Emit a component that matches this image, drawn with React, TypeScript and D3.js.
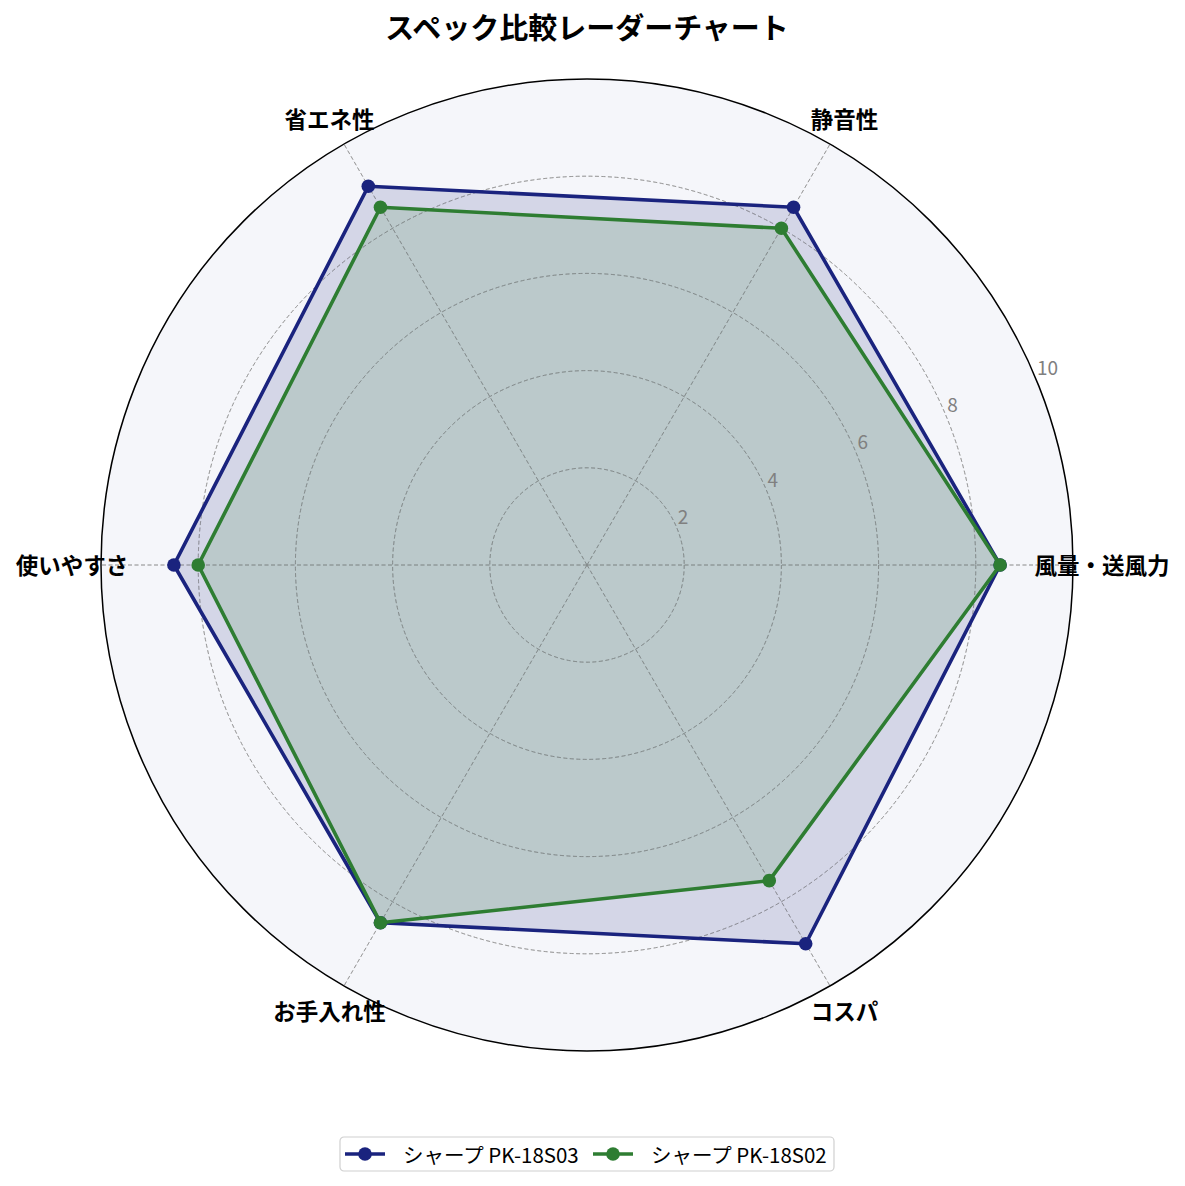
import React from 'react';
import * as d3 from 'd3';

// Data
const categories = ['風量・送風力', '静音性', '省エネ性', '使いやすさ', 'お手入れ性', 'コスパ'];
const seriesNames = ['シャープ PK-18S03', 'シャープ PK-18S02'];
const pk18s03 = [8.5, 8.5, 9.0, 8.5, 8.5, 9.0];
const pk18s02 = [8.5, 8.0, 8.5, 8.0, 8.5, 7.5];
const radialTicks = [2, 4, 6, 8, 10];
const seriesColors = ['#1a237e', '#2e7d32'];

const W = 1185;
const H = 1186;
const cx = 587;
const cy = 565;
const R = 486;
const FONT = '"Noto Sans CJK JP", "Noto Sans", sans-serif';

export default function App() {
  const r = d3.scaleLinear().domain([0, 10]).range([0, R]);
  // category i sits at i*60° counter-clockwise from east; d3 radial angles go clockwise from north
  const angle = (i: number) => Math.PI / 2 - (i * 2 * Math.PI) / categories.length;
  const pt = (i: number, v: number) => {
    const a = angle(i);
    return [r(v) * Math.sin(a), -r(v) * Math.cos(a)];
  };

  const radial = d3
    .lineRadial<number>()
    .angle((_, i) => angle(i))
    .radius(d => r(d))
    .curve(d3.curveLinearClosed);

  const series = [pk18s03, pk18s02];
  const rlabelAngle = (22.5 * Math.PI) / 180;

  return (
    <svg width={W} height={H} style={{ position: 'absolute', left: 0, top: 0, background: '#fff' }} fontFamily={FONT}>
      <text x={cx} y={26} textAnchor="middle" dominantBaseline="central" fontSize={29} fontWeight="bold" fill="#000">
        スペック比較レーダーチャート
      </text>

      <g transform={`translate(${cx},${cy})`}>
        <circle r={R} fill="#f5f6fa" />
        {/* grid circles */}
        {radialTicks.slice(0, -1).map(t => (
          <circle key={t} r={r(t)} fill="none" stroke="#a0a0a0" strokeWidth={0.9} strokeDasharray="4,2.5" />
        ))}
        {/* spokes */}
        {categories.map((c, i) => {
          const [x, y] = pt(i, 10);
          return <line key={c} x1={0} y1={0} x2={x} y2={y} stroke="#a0a0a0" strokeWidth={0.9} strokeDasharray="4,2.5" />;
        })}

        {series.map((s, k) => (
          <path key={'f' + k} d={radial(s) ?? ''} fill={seriesColors[k]} fillOpacity={0.15} stroke="none" />
        ))}
        {/* grid shows faintly through the fills */}
        {radialTicks.slice(0, -1).map(t => (
          <circle key={'g' + t} r={r(t)} fill="none" stroke="#8a8a8a" strokeOpacity={0.5} strokeWidth={0.9} strokeDasharray="4,2.5" />
        ))}
        {categories.map((c, i) => {
          const [x, y] = pt(i, 10);
          return <line key={'s' + c} x1={0} y1={0} x2={x} y2={y} stroke="#8a8a8a" strokeOpacity={0.5} strokeWidth={0.9} strokeDasharray="4,2.5" />;
        })}

        {series.map((s, k) => (
          <g key={'l' + k}>
            <path d={radial(s) ?? ''} fill="none" stroke={seriesColors[k]} strokeWidth={3.6} strokeLinejoin="round" />
            {s.map((v, i) => {
              const [x, y] = pt(i, v);
              return <circle key={i} cx={x} cy={y} r={6.8} fill={seriesColors[k]} />;
            })}
          </g>
        ))}

        <circle r={R} fill="none" stroke="#000" strokeWidth={1.5} />

        {radialTicks.map(t => (
          <text
            key={'t' + t}
            x={r(t) * Math.cos(rlabelAngle) + 1}
            y={-r(t) * Math.sin(rlabelAngle) - 4}
            fontSize={19}
            fill="#808080"
            textAnchor="start"
          >
            {t}
          </text>
        ))}

        {categories.map((c, i) => {
          const a = angle(i);
          const rr = 515;
          return (
            <text
              key={'c' + c}
              x={rr * Math.sin(a)}
              y={-rr * Math.cos(a) - 1.5}
              textAnchor="middle"
              dominantBaseline="central"
              fontSize={22.5}
              fontWeight="bold"
              fill="#000"
            >
              {c}
            </text>
          );
        })}
      </g>

      {/* legend */}
      <g transform="translate(340,1137)">
        <rect x={0} y={0} width={494} height={34} rx={4} fill="#fff" stroke="#d0d0d0" strokeWidth={1.2} />
        {seriesNames.map((n, k) => {
          const x0 = k === 0 ? 5 : 253;
          return (
            <g key={n} transform={`translate(${x0},17)`}>
              <line x1={0} x2={40} y1={0} y2={0} stroke={seriesColors[k]} strokeWidth={3.6} />
              <circle cx={20} cy={0} r={6.8} fill={seriesColors[k]} />
              <text x={58} y={0} dominantBaseline="central" fontSize={20.5} fill="#000">
                {n}
              </text>
            </g>
          );
        })}
      </g>
    </svg>
  );
}
